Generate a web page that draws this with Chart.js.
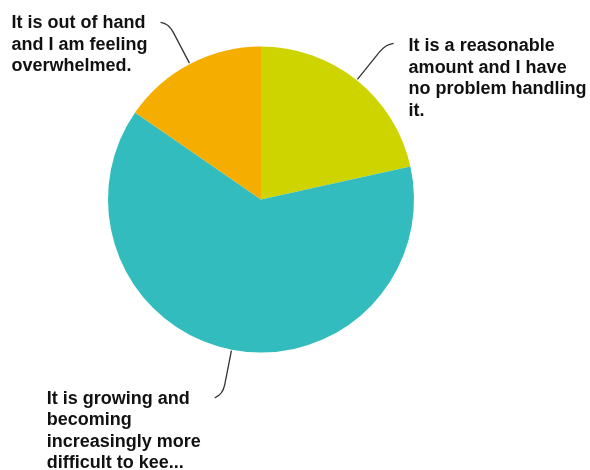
<!DOCTYPE html>
<html>
<head>
<meta charset="utf-8">
<script src="https://cdn.jsdelivr.net/npm/chart.js@4/dist/chart.umd.min.js"></script>
<style>
  html, body { margin: 0; padding: 0; background: #fff; }
  #myChart { display: block; }
</style>
</head>
<body>
<canvas id="myChart" width="590" height="470"></canvas>
<script>
// answers, split into lines the way they are shown
const labels = [
  ["It is a reasonable", "amount and I have", "no problem handling", "it."],
  ["It is growing and", "becoming", "increasingly more", "difficult to kee..."],
  ["It is out of hand", "and I am feeling", "overwhelmed."]
];
const responses = [14, 41, 10];
const colors = ["#CDD400", "#33BCBD", "#F5AE00"];

// draws the outside labels with their leader lines
const outsideLabels = {
  id: "outsideLabels",
  afterDatasetsDraw(chart) {
    const ctx = chart.ctx;
    const meta = chart.getDatasetMeta(0);
    ctx.save();
    ctx.font = "bold 18px 'Liberation Sans', Arial, sans-serif";
    ctx.textBaseline = "alphabetic";
    ctx.textAlign = "left";
    meta.data.forEach((arc, i) => {
      const mid = (arc.startAngle + arc.endAngle) / 2;
      const cos = Math.cos(mid), sin = Math.sin(mid);
      const r = arc.outerRadius;
      const right = cos >= 0;
      const p0 = { x: arc.x + cos * (r + 1), y: arc.y + sin * (r + 1) };
      const p1 = { x: arc.x + cos * (r + 36), y: arc.y + sin * (r + 36) };
      const elbow = { x: arc.x + cos * (r + 46), y: arc.y + sin * (r + 46) };
      const end = { x: elbow.x + (right ? 8 : -8), y: elbow.y + (sin < 0 ? -1 : 3) };

      ctx.strokeStyle = "#333";
      ctx.lineWidth = 1.3;
      ctx.beginPath();
      ctx.moveTo(p0.x, p0.y);
      ctx.lineTo(p1.x, p1.y);
      ctx.quadraticCurveTo(elbow.x, elbow.y, end.x, end.y);
      ctx.stroke();

      const lines = chart.data.labels[i];
      const lineH = 21.5;
      const w = Math.max(...lines.map(l => ctx.measureText(l).width));
      ctx.fillStyle = "#111";
      let x, y;
      if (right) {
        x = end.x + 15;
        y = end.y + 8;
      } else if (sin < 0) {
        x = end.x - 13 - w;
        y = end.y + 6;
      } else {
        x = end.x - 14 - w;
        y = end.y + 6;
      }
      lines.forEach((l, k) => ctx.fillText(l, x, y + k * lineH));
    });
    ctx.restore();
  }
};

const ctx = document.getElementById("myChart").getContext("2d");
const myChart = new Chart(ctx, {
  type: "pie",
  data: {
    labels: labels,
    datasets: [
      {
        data: responses,
        backgroundColor: colors,
        borderWidth: 0
      }
    ]
  },
  options: {
    responsive: false,
    animation: false,
    layout: {
      padding: { left: 108, right: 176, top: 46, bottom: 117 }
    },
    plugins: {
      legend: { display: false },
      tooltip: { enabled: false }
    }
  },
  plugins: [outsideLabels]
});
</script>
</body>
</html>
